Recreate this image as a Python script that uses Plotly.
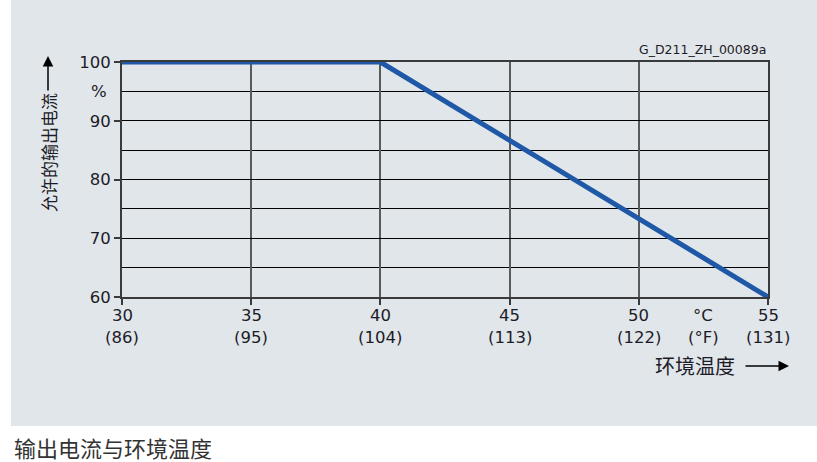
import plotly.graph_objects as go

temp_c = [30, 40, 55]
current_pct = [100, 100, 60]

x_ticks = [30, 35, 40, 45, 50, 55]
x_tick_f = ["86", "95", "104", "113", "122", "131"]
y_ticks = [60, 70, 80, 90, 100]

W, H = 817, 462
L, R, T, B = 122, 817 - 768, 62, 462 - 297
pw, ph = W - L - R, H - T - B


def px(x):
    return (x - L) / pw


def py(y):
    return (H - B - y) / ph


FONT = "DejaVu Sans, Liberation Sans, sans-serif"
CJK = "Noto Sans CJK SC"
TXT = "#1c1c28"
NUM = 16.5
CROW = 315
FROW = 337


def lab(x, y, text, xref="x"):
    return dict(xref=xref, yref="paper", x=x, y=py(y), text=text, showarrow=False,
                xanchor="center", yanchor="middle", borderpad=0,
                font=dict(family=FONT, size=NUM, color=TXT))


fig = go.Figure()
fig.add_trace(go.Scatter(
    x=temp_c, y=current_pct, mode="lines",
    line=dict(color="#1f58a6", width=5),
    cliponaxis=False, hoverinfo="skip", showlegend=False,
))

annotations = [
    dict(xref="paper", yref="y", x=px(109), y=95, text="%", showarrow=False,
         xanchor="right", yanchor="middle", font=dict(family=FONT, size=NUM, color=TXT)),
    lab(52.5, CROW, "°C"),
    lab(52.5, FROW, "(°F)"),
    dict(xref="paper", yref="paper", x=px(768), y=py(50), text="G_D211_ZH_00089a",
         showarrow=False, xanchor="right", yanchor="middle",
         font=dict(family=FONT, size=12.5, color=TXT)),
    dict(xref="paper", yref="paper", x=px(737), y=py(365), text="环境温度",
         showarrow=False, xanchor="right", yanchor="middle",
         font=dict(family=CJK, size=20, color=TXT)),
    dict(xref="paper", yref="paper", x=px(789), y=py(366), ax=-45, ay=0,
         axref="pixel", ayref="pixel", text="", showarrow=True,
         arrowhead=2, arrowsize=1.4, arrowwidth=1.5, arrowcolor="black"),
    dict(xref="paper", yref="paper", x=px(48), y=py(153), text="允许的输出电流",
         showarrow=False, textangle=-90, xanchor="center", yanchor="middle",
         font=dict(family=CJK, size=17, color=TXT)),
    dict(xref="paper", yref="paper", x=px(48), y=py(56), ax=0, ay=36,
         axref="pixel", ayref="pixel", text="", showarrow=True,
         arrowhead=2, arrowsize=1.4, arrowwidth=1.5, arrowcolor="black"),
    dict(xref="paper", yref="paper", x=px(12), y=py(447), text="输出电流与环境温度",
         showarrow=False, xanchor="left", yanchor="middle",
         font=dict(family=CJK, size=22, color="#333333")),
]
for xv, fv in zip(x_ticks, x_tick_f):
    annotations.append(lab(xv, CROW, str(xv)))
    annotations.append(lab(xv, FROW, f"({fv})"))

fig.update_layout(
    width=W, height=H,
    margin=dict(l=L, r=R, t=T, b=B),
    paper_bgcolor="white",
    plot_bgcolor="white",
    font=dict(family=FONT, size=NUM, color=TXT),
    xaxis=dict(
        range=[30, 55], tickvals=x_ticks, showticklabels=False,
        showgrid=True, gridcolor="#5a5a5a", gridwidth=2,
        showline=True, linecolor="#3a3a3a", linewidth=2, mirror=True,
        ticks="outside", ticklen=6, tickcolor="#3a3a3a", tickwidth=1.5,
        zeroline=False, fixedrange=True,
    ),
    yaxis=dict(
        range=[60, 100], tickvals=y_ticks,
        showgrid=True, gridcolor="black", gridwidth=1,
        minor=dict(dtick=5, tick0=60, showgrid=True, gridcolor="black", gridwidth=1),
        showline=True, linecolor="#3a3a3a", linewidth=2, mirror=True,
        ticks="outside", ticklen=6, tickcolor="#3a3a3a", tickwidth=1.5,
        zeroline=False, fixedrange=True,
    ),
    shapes=[dict(
        type="rect", xref="paper", yref="paper", layer="below",
        x0=px(11), x1=px(817), y0=py(426), y1=py(0),
        fillcolor="#e1e6ea", line=dict(width=0),
    )],
    annotations=annotations,
)

fig.write_html(
    "out.html",
    config={"displayModeBar": False},
    post_script="document.body.style.margin='0';document.body.style.overflow='hidden';",
)
